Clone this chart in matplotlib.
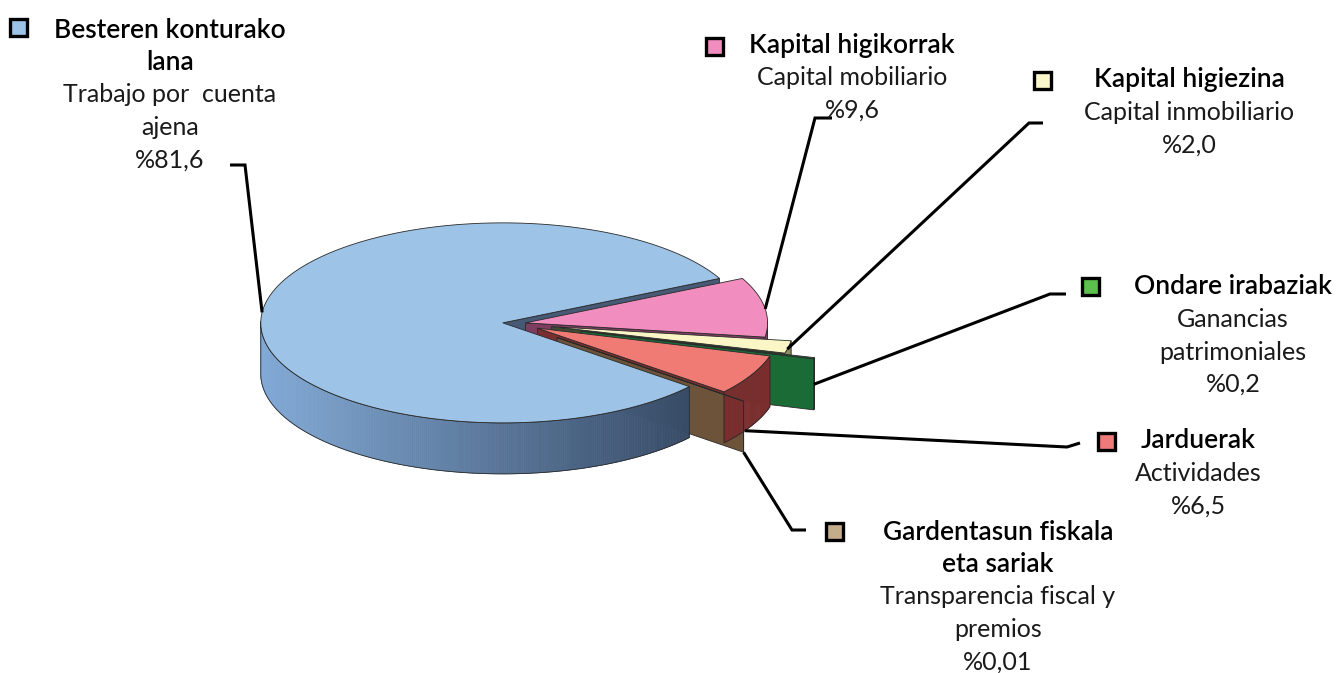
import numpy as np
import matplotlib.pyplot as plt
from matplotlib.patches import Polygon, Rectangle

# data
titles = ["Besteren konturako\nlana", "Kapital higikorrak", "Kapital higiezina",
          "Ondare irabaziak", "Jarduerak", "Gardentasun fiskala\neta sariak"]
subtitles = ["Trabajo por  cuenta\najena", "Capital mobiliario", "Capital inmobiliario",
             "Ganancias\npatrimoniales", "Actividades", "Transparencia fiscal y\npremios"]
shares = [81.6, 9.6, 2.0, 0.2, 6.5, 0.01]
pct_text = ["%81,6", "%9,6", "%2,0", "%0,2", "%6,5", "%0,01"]

# styles
top_col = ["#9dc3e6", "#f28dbf", "#fbf6c6", "#1d6e3a", "#f07a74", "#6f563d"]
side_col = [None, "#8a4468", "#8f8c5e", "#1b6b37", "#7a2e2e", "#6c533a"]
face_col = ["#465a75", "#7d3d60", "#3f4a30", "#1b6b37", "#7a2e2e", "#6c533a"]
legend_col = ["#9dc3e6", "#f28dbf", "#fbf7cc", "#5cbf4e", "#f07a7a", "#c4ad8b"]
explode = [0.055, 0.04, 0.15, 0.28, 0.10, 0.22]

CX, CY, RX, RY, H = 516, 323.5, 242, 100, 51

# wedge angles, clockwise from the blue/pink cut
frac = np.array(shares) / sum(shares) * 360
a_hi, a_lo = {}, {}
cur = 26.4
for i in [1, 2, 3, 4, 5, 0]:
    a_hi[i] = cur
    a_lo[i] = cur - frac[i]
    cur = a_lo[i]


def apex(i):
    mid = np.radians((a_lo[i] + a_hi[i]) / 2)
    return CX + explode[i] * RX * np.cos(mid), CY - explode[i] * RY * np.sin(mid)


def rim(i, t, d=0.0):
    ax_, ay_ = apex(i)
    t = np.radians(t)
    return ax_ + RX * np.cos(t), ay_ - RY * np.sin(t) + d * H


fig = plt.figure(figsize=(13.43, 6.73), dpi=100)
ax = fig.add_axes([0, 0, 1, 1])
ax.set_xlim(0, 1343)
ax.set_ylim(673, 0)
ax.axis("off")

EDGE = "#2a2a2a"


def draw_face(i, t):
    p0 = apex(i)
    p1 = rim(i, t)
    p2 = rim(i, t, 1)
    p3 = (p0[0], p0[1] + H)
    ax.add_patch(Polygon([p0, p1, p2, p3], closed=True, fc=face_col[i], ec=EDGE, lw=0.6))


def draw_side(i):
    ts = np.linspace(a_lo[i], a_hi[i], max(3, int(abs(a_hi[i] - a_lo[i]) * 2)))
    ts = ts[np.sin(np.radians(ts)) < 0.02]
    if len(ts) < 2:
        return
    light = np.array([130, 170, 214]) / 255
    dark = np.array([56, 76, 104]) / 255
    for k in range(len(ts) - 1):
        q = [rim(i, ts[k]), rim(i, ts[k + 1]), rim(i, ts[k + 1], 1), rim(i, ts[k], 1)]
        if i == 0:
            u = np.clip((np.cos(np.radians(ts[k])) + 1) / 1.75, 0, 1)
            c = light * (1 - u) + dark * u
        else:
            c = side_col[i]
        ax.add_patch(Polygon(q, closed=True, fc=c, ec=c, lw=0.5))
    outline = [rim(i, t) for t in ts] + [rim(i, t, 1) for t in ts[::-1]]
    ax.add_patch(Polygon(outline, closed=True, fill=False, ec=EDGE, lw=0.6))


def draw_top(i):
    ts = np.linspace(a_lo[i], a_hi[i], max(3, int(abs(a_hi[i] - a_lo[i]) * 2)))
    pts = [apex(i)] + [rim(i, t) for t in ts]
    ax.add_patch(Polygon(pts, closed=True, fc=top_col[i], ec=EDGE, lw=0.6))


# painter's order: back faces, big slice, then the small slices' tops
draw_face(0, a_lo[0])
draw_face(1, a_lo[1])
draw_side(1)
draw_face(2, a_lo[2])
draw_side(2)
draw_face(3, a_lo[3])
draw_face(4, a_lo[4])
draw_face(5, a_lo[5])
draw_side(0)
draw_top(0)
draw_top(1)
draw_top(2)
draw_side(3)
draw_top(3)
draw_side(4)
draw_top(4)
draw_side(5)
draw_top(5)

# leader lines
anchors = [rim(0, 174), rim(1, 8), rim(2, -13), rim(3, a_lo[3], 0.5),
           rim(4, -31, 1.0), rim(5, a_lo[5], 1.0)]
elbows = [[(245, 165), (230, 165)], [(815, 118), (832, 118)], [(1029, 123), (1043, 123)],
          [(1050, 294), (1066, 294)], [(1067, 447), (1080, 443)], [(792, 530), (806, 530)]]
for a, e in zip(anchors, elbows):
    xs = [a[0]] + [p[0] for p in e]
    ys = [a[1]] + [p[1] for p in e]
    ax.plot(xs, ys, color="black", lw=2.2, solid_capstyle="butt", solid_joinstyle="miter")

# labels
squares = [(18, 27), (714, 46), (1042, 80), (1090, 286), (1106, 441), (834, 531)]
label_cx = [170, 852, 1189, 1233, 1198, 998]
label_y0 = [30, 45, 80, 287, 441, 532]
pitch = 32.5
for i in range(6):
    sx, sy = squares[i]
    ax.add_patch(Rectangle((sx - 8.5, sy - 8.5), 17, 17, fc=legend_col[i], ec="black", lw=2.4))
    y = label_y0[i]
    for line in titles[i].split("\n"):
        ax.text(label_cx[i], y, line, ha="center", va="center", fontsize=19,
                fontfamily="Lato", fontweight="semibold")
        y += pitch
    for line in subtitles[i].split("\n") + [pct_text[i]]:
        ax.text(label_cx[i], y, line, ha="center", va="center", fontsize=18,
                fontfamily="Lato", fontweight="normal", color="#1a1a1a")
        y += pitch

fig.savefig("out.png", dpi=100)
